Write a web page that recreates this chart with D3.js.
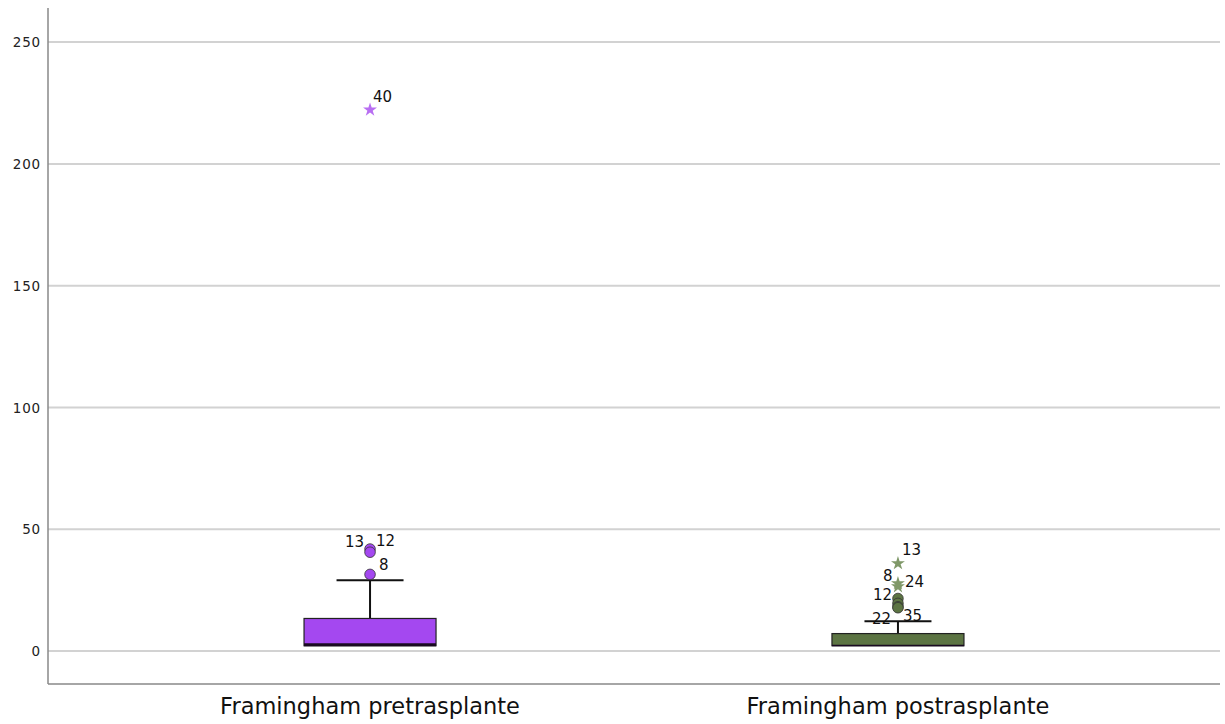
<!DOCTYPE html>
<html>
<head>
<meta charset="utf-8">
<script src="https://cdn.jsdelivr.net/npm/d3@7"></script>
<style>
  body { margin: 0; background: #fff; }
  svg text { font-family: "DejaVu Sans", sans-serif; }
</style>
</head>
<body>
<div id="graph"></div>
<script>
// data
var categories = ["Framingham pretrasplante", "Framingham postrasplante"];
var q1 = [2.2, 2.2];
var medians = [2.6, 2.3];
var q3 = [13.4, 7.2];
var whiskerLow = [2.2, 2.2];
var whiskerHigh = [29.1, 12.3];
var fills = ["#a448f0", "#5c7443"];
var extremeFills = ["#b86ef2", "#7f9868"];
// outliers: [category index, value, label, kind]  kind: o = circle, * = extreme
var outliers = [
  [0, 222.2, "40", "*"],
  [0, 41.9, "13", "o"],
  [0, 40.6, "12", "o"],
  [0, 31.5, "8", "o"],
  [1, 36.0, "13", "*"],
  [1, 27.8, "8", "*"],
  [1, 26.5, "24", "*"],
  [1, 21.6, "12", "o"],
  [1, 19.6, "", "o"],
  [1, 18.2, "22", "o"],
  [1, 17.8, "35", "o"]
];
// label offsets per outlier label (dx, dy in px)
var labelPos = {
  "0-40": [3, -8], "0-13": [-25, -2], "0-12": [6, -6], "0-8": [9, -4],
  "1-13": [4, -8], "1-8": [-15, -2], "1-24": [7, 0], "1-12": [-25, 2],
  "1-22": [-26, 17], "1-35": [5, 13]
};
var yTicks = [0, 50, 100, 150, 200, 250];

var width = 1225, height = 724;
var mLeft = 48, mRight = 1220, mTop = 8, mBottom = 684;

var svg = d3.select("#graph").append("svg")
  .attr("width", width).attr("height", height);

var y = d3.scaleLinear().domain([-13.5, 264]).range([mBottom, mTop]);
var x = d3.scalePoint().domain(categories).range([mLeft, mRight]).padding(0.61);
var boxW = 132, capW = 67;

// gridlines
svg.append("g").selectAll("line").data(yTicks).enter().append("line")
  .attr("x1", mLeft).attr("x2", mRight)
  .attr("y1", d => y(d)).attr("y2", d => y(d))
  .attr("stroke", "#d2d2d2").attr("stroke-width", 2);

// axis labels
svg.append("g").selectAll("text").data(yTicks).enter().append("text")
  .attr("x", 41).attr("y", d => y(d) + 5)
  .attr("text-anchor", "end").attr("font-size", 13.5)
  .attr("letter-spacing", 0.8).attr("fill", "#222")
  .text(d => d);

// axes lines
svg.append("line").attr("x1", mLeft).attr("x2", mLeft).attr("y1", mTop).attr("y2", mBottom)
  .attr("stroke", "#888").attr("stroke-width", 1.5);
svg.append("line").attr("x1", mLeft).attr("x2", mRight).attr("y1", mBottom).attr("y2", mBottom)
  .attr("stroke", "#888").attr("stroke-width", 1.5);

// category labels
svg.append("g").selectAll("text").data(categories).enter().append("text")
  .attr("x", d => x(d)).attr("y", 714)
  .attr("text-anchor", "middle").attr("font-size", 22.5).attr("fill", "#111")
  .text(d => d);

// boxes
var boxes = svg.append("g").selectAll("g").data(categories).enter().append("g");

boxes.append("line")
  .attr("x1", d => x(d)).attr("x2", d => x(d))
  .attr("y1", (d, i) => y(whiskerHigh[i])).attr("y2", (d, i) => y(q3[i]))
  .attr("stroke", "#111").attr("stroke-width", 2);
boxes.append("line")
  .attr("x1", d => x(d) - capW / 2).attr("x2", d => x(d) + capW / 2)
  .attr("y1", (d, i) => y(whiskerHigh[i])).attr("y2", (d, i) => y(whiskerHigh[i]))
  .attr("stroke", "#111").attr("stroke-width", 2);
boxes.append("line")
  .attr("x1", d => x(d)).attr("x2", d => x(d))
  .attr("y1", (d, i) => y(whiskerLow[i])).attr("y2", (d, i) => y(q1[i]))
  .attr("stroke", "#111").attr("stroke-width", 2);
boxes.append("rect")
  .attr("x", d => x(d) - boxW / 2).attr("width", boxW)
  .attr("y", (d, i) => y(q3[i]))
  .attr("height", (d, i) => y(q1[i]) - y(q3[i]))
  .attr("fill", (d, i) => fills[i])
  .attr("stroke", "#222").attr("stroke-width", 1.2);
boxes.append("line")
  .attr("x1", d => x(d) - boxW / 2).attr("x2", d => x(d) + boxW / 2)
  .attr("y1", (d, i) => y(medians[i])).attr("y2", (d, i) => y(medians[i]))
  .attr("stroke", "#1a0a22").attr("stroke-width", (d, i) => i == 0 ? 3 : 1.5);

// outliers
var star = d3.symbol().type(d3.symbolStar).size(60);
var pts = svg.append("g").selectAll("g").data(outliers).enter().append("g")
  .attr("transform", d => "translate(" + x(categories[d[0]]) + "," + y(d[1]) + ")");

pts.filter(d => d[3] == "o").append("circle")
  .attr("r", 5.3)
  .attr("fill", d => fills[d[0]])
  .attr("stroke", "#333").attr("stroke-width", 0.8);
pts.filter(d => d[3] == "*").append("path")
  .attr("d", star)
  .attr("fill", d => extremeFills[d[0]]);

pts.filter(d => d[2] != "").append("text")
  .attr("x", d => labelPos[d[0] + "-" + d[2]][0])
  .attr("y", d => labelPos[d[0] + "-" + d[2]][1])
  .attr("font-size", 15).attr("fill", "#111")
  .text(d => d[2]);
</script>
</body>
</html>
